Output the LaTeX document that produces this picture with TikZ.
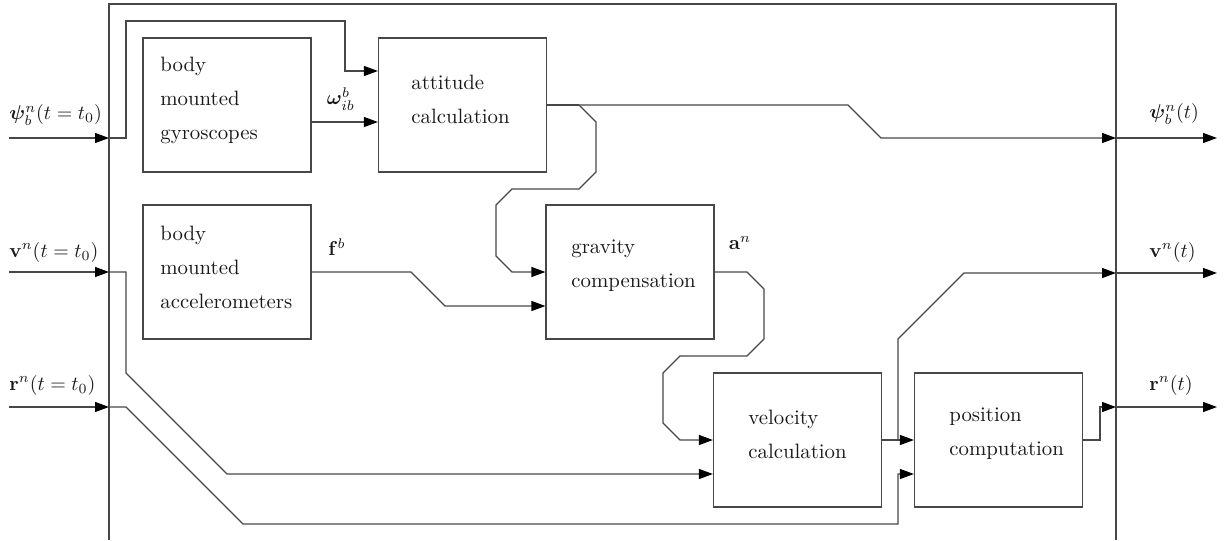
\documentclass[tikz,border=0pt]{standalone}
\usepackage{bm}
\usetikzlibrary{arrows.meta,calc}
\begin{document}
\begin{tikzpicture}[x=0.5pt,y=-0.5pt,
  line/.style={draw=black!72,line width=0.6pt},
  arr/.style={line,-{Triangle[length=7pt,width=5pt,black]}},
  box/.style={draw=black!72,line width=0.6pt,minimum width=84pt,minimum height=67pt,inner sep=0pt},
  txt/.style={anchor=west,inner sep=0pt,align=left,text=black!90,font=\fontsize{10.4}{17}\selectfont},
  lab/.style={inner sep=0pt,text=black!90,font=\fontsize{10.4}{12}\selectfont}]
\useasboundingbox (0,0) rectangle (1224,540);
% frame
\draw[line] (109,540) -- (109,4) -- (1116,4) -- (1116,540);
% boxes
\node[box] (gyro) at (227,105) {};
\node[box] (att) at (462.5,105) {};
\node[box] (acc) at (227,272) {};
\node[box] (grav) at (630,272) {};
\node[box] (vel) at (797.5,440) {};
\node[box] (pos) at (998.5,440) {};
% box texts
\node[txt] (tgyro) at (160,100) {body\\mounted\\gyroscopes};
\node[txt] (tacc) at (160,267) {body\\mounted\\accelerometers};
\node[txt] (tatt) at (411,99) {attitude\\calculation};
\node[txt] (tgrav) at (571,266) {gravity\\compensation};
\node[txt] (tvel) at (748,434) {velocity\\calculation};
\node[txt] (tpos) at (949,434) {position\\computation};
% ports on frame
\coordinate (inpsi) at (9,138);  \coordinate (fpsi) at (109,138);
\coordinate (inv) at (9,272);    \coordinate (fv) at (109,272);
\coordinate (inr) at (9,407);    \coordinate (fr) at (109,407);
\coordinate (opsi) at (1116,138); \coordinate (outpsi) at (1217,138);
\coordinate (ov) at (1116,273);   \coordinate (outv) at (1217,273);
\coordinate (orr) at (1116,407);  \coordinate (outr) at (1217,407);
\coordinate (split) at (579,105);
\coordinate (vsplit) at (898,440);
% inputs
\draw[arr] (inpsi) -- (fpsi);
\draw[arr] (inv) -- (fv);
\draw[arr] (inr) -- (fr);
\node[lab,anchor=west] (lpsi0) at (9,115) {$\bm{\psi}_b^n(t=t_0)$};
\node[lab,anchor=west] (lv0) at (9,252) {$\mathbf{v}^n(t=t_0)$};
\node[lab,anchor=west] (lr0) at (9,385) {$\mathbf{r}^n(t=t_0)$};
% psi initial to attitude
\draw[arr] (fpsi) -- (126,138) -- (126,21) -- (345,21) |- ($(att.west)+(0,-34)$);
% gyro to attitude
\draw[arr] ($(gyro.east)+(0,17)$) -- ($(att.west)+(0,17)$);
\node[lab] (lom) at (341,99) {$\bm{\omega}_{ib}^b$};
% attitude out
\draw[line] (att.east) -- (split);
\draw[arr] (split) -- (596,122) -- (596,172) -- (579,189) -- (512,189) -- (496,205) -- (496,256) -- (512,272) -- (grav.west);
\draw[arr] (split) -- (848,105) -- (881,138) -- (opsi);
\draw[arr] (opsi) -- (outpsi);
\node[lab,anchor=west] (lpsi) at (1149,114) {$\bm{\psi}_b^n(t)$};
% accelerometers to gravity
\draw[arr] (acc.east) -- (411,272) -- (445,306) -- ($(grav.west)+(0,34)$);
\node[lab] (lf) at (337,247) {$\mathbf{f}^b$};
% gravity to velocity
\draw[arr] (grav.east) -- (747,272) -- (764,289) -- (764,339) -- (747,356) -- (680,356) -- (663,373) -- (663,423) -- (680,440) -- (vel.west);
\node[lab] (la) at (740,243) {$\mathbf{a}^n$};
% v initial to velocity
\draw[arr] (fv) -- (126,272) -- (126,373) -- (227,474) -- ($(vel.west)+(0,34)$);
% r initial to position
\draw[arr] (fr) -- (126,407) -- (243,524) -- (898,524) -- (898,474) -- ($(pos.west)+(0,34)$);
% velocity out
\draw[arr] (vel.east) -- (pos.west);
\draw[arr] (vsplit) -- (898,339) -- (964,273) -- (ov);
\draw[arr] (ov) -- (outv);
\node[lab,anchor=west] (lv) at (1149,252) {$\mathbf{v}^n(t)$};
% position out
\draw[arr] (pos.east) -- (1100,440) -- (1100,407) -- (orr);
\draw[arr] (orr) -- (outr);
\node[lab,anchor=west] (lr) at (1149,385) {$\mathbf{r}^n(t)$};
\end{tikzpicture}
\end{document}
